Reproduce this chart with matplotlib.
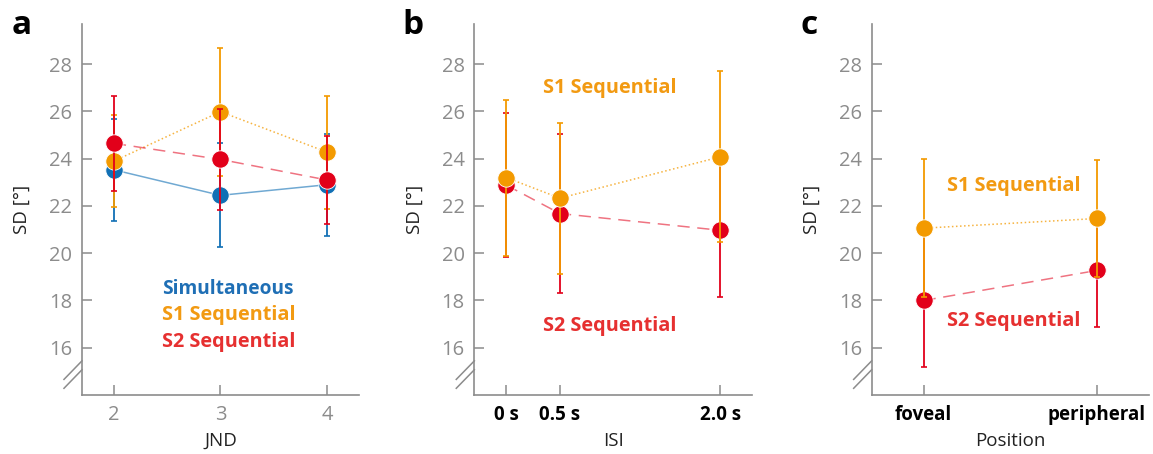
import matplotlib
matplotlib.use('Agg')
import matplotlib.pyplot as plt
import numpy as np

plt.rcParams['font.family'] = ['Open Sans', 'DejaVu Sans']

BLUE = '#1170b5'
ORANGE = '#f39a00'
RED = '#e2001a'
TXT_BLUE = '#1f6fb5'
TXT_ORANGE = '#f29a12'
TXT_RED = '#e63030'
GRAY = '#8c8c8c'

# panel a: JND
jnd = [2, 3, 4]
simul_mean = [23.53, 22.45, 22.90]
simul_err = [2.15, 2.20, 2.15]
s1_jnd_mean = [23.90, 25.99, 24.28]
s1_jnd_err = [1.96, 2.70, 2.39]
s2_jnd_mean = [24.65, 23.97, 23.10]
s2_jnd_err = [2.02, 2.12, 1.85]

# panel b: ISI (s)
isi = [0.0, 0.5, 2.0]
isi_labels = ['0 s', '0.5 s', '2.0 s']
s1_isi_mean = [23.20, 22.33, 24.08]
s1_isi_err = [3.30, 3.20, 3.62]
s2_isi_mean = [22.88, 21.68, 20.97]
s2_isi_err = [3.05, 3.35, 2.83]

# panel c: position
pos = [0, 1]
pos_labels = ['foveal', 'peripheral']
s1_pos_mean = [21.06, 21.47]
s1_pos_err = [2.92, 2.47]
s2_pos_mean = [18.00, 19.27]
s2_pos_err = [2.82, 2.40]

LBL = 14.3


def draw_series(ax, x, m, e, color, ls, lalpha, z):
    ax.plot(x, m, ls=ls, color=color, lw=1.1, alpha=lalpha, zorder=z)
    ax.errorbar(x, m, yerr=e, fmt='none', ecolor=color, elinewidth=1.3,
                capsize=2.5, capthick=1.2, zorder=z + 0.1)
    ax.plot(x, m, 'o', color=color, ms=12.5, mec='white', mew=0.6,
            zorder=z + 0.2)


def style_axes(ax, xlim):
    ax.set_xlim(*xlim)
    ax.set_ylim(14, 29.7)
    ax.set_yticks(range(16, 29, 2))
    for s in ['top', 'right']:
        ax.spines[s].set_visible(False)
    for s in ['left', 'bottom']:
        ax.spines[s].set_color(GRAY)
        ax.spines[s].set_linewidth(1.2)
    ax.tick_params(direction='in', length=7, width=1.1, color=GRAY,
                   labelsize=14.5, labelcolor=GRAY, pad=7)
    ax.set_ylabel('SD [°]', fontsize=13.5, color='#222222', labelpad=13)
    # axis break mark
    for dy in (-0.012, 0.012):
        ax.plot([-0.065, 0.0], [0.055 + dy - 0.025, 0.055 + dy + 0.025],
                transform=ax.transAxes, color=GRAY, lw=1.1, clip_on=False)


fig = plt.figure(figsize=(11.53, 4.54), dpi=100)
bottom = 0.130
height = 0.817
ax_a = fig.add_axes([0.0711, bottom, 0.2402, height])
ax_b = fig.add_axes([0.4114, bottom, 0.2412, height])
ax_c = fig.add_axes([0.7560, bottom, 0.2403, height])

# a
draw_series(ax_a, jnd, simul_mean, simul_err, BLUE, '-', 0.6, 2)
draw_series(ax_a, jnd, s1_jnd_mean, s1_jnd_err, ORANGE, ':', 0.75, 3)
draw_series(ax_a, jnd, s2_jnd_mean, s2_jnd_err, RED, (0, (8, 5)), 0.55, 4)
style_axes(ax_a, (1.7, 4.3))
ax_a.set_xticks(jnd)
ax_a.set_xlabel('JND', fontsize=13.5, color='#222222', labelpad=5)
ax_a.text(2.45, 18.5, 'Simultaneous', color=TXT_BLUE, fontsize=LBL - 0.5,
          fontweight='bold', va='center')
ax_a.text(2.45, 17.38, 'S1 Sequential', color=TXT_ORANGE, fontsize=LBL,
          fontweight='bold', va='center')
ax_a.text(2.45, 16.26, 'S2 Sequential', color=TXT_RED, fontsize=LBL,
          fontweight='bold', va='center')

# b
draw_series(ax_b, isi, s2_isi_mean, s2_isi_err, RED, (0, (8, 5)), 0.55, 2)
draw_series(ax_b, isi, s1_isi_mean, s1_isi_err, ORANGE, ':', 0.75, 3)
style_axes(ax_b, (-0.3, 2.3))
ax_b.set_xticks(isi)
ax_b.set_xticklabels(isi_labels, fontweight='bold', color='black',
                     fontsize=13.5)
ax_b.set_xlabel('ISI', fontsize=13.5, color='#222222', labelpad=5)
ax_b.text(0.34, 27.0, 'S1 Sequential', color=TXT_ORANGE, fontsize=LBL,
          fontweight='bold', va='center')
ax_b.text(0.34, 16.9, 'S2 Sequential', color=TXT_RED, fontsize=LBL,
          fontweight='bold', va='center')

# c
draw_series(ax_c, pos, s2_pos_mean, s2_pos_err, RED, (0, (8, 5)), 0.55, 2)
draw_series(ax_c, pos, s1_pos_mean, s1_pos_err, ORANGE, ':', 0.75, 3)
style_axes(ax_c, (-0.3, 1.3))
ax_c.set_xticks(pos)
ax_c.set_xticklabels(pos_labels, fontweight='bold', color='black',
                     fontsize=13.5)
ax_c.set_xlabel('Position', fontsize=13.5, color='#222222', labelpad=5)
ax_c.text(0.136, 22.84, 'S1 Sequential', color=TXT_ORANGE, fontsize=LBL,
          fontweight='bold', va='center')
ax_c.text(0.136, 17.14, 'S2 Sequential', color=TXT_RED, fontsize=LBL,
          fontweight='bold', va='center')

for ax, lab, xpx in [(ax_a, 'a', 12), (ax_b, 'b', 402), (ax_c, 'c', 800)]:
    fig.text(xpx / 1153, 1 - 26 / 454, lab, fontsize=24, fontweight='bold',
             va='center', ha='left')

fig.savefig('out.png', dpi=100)
